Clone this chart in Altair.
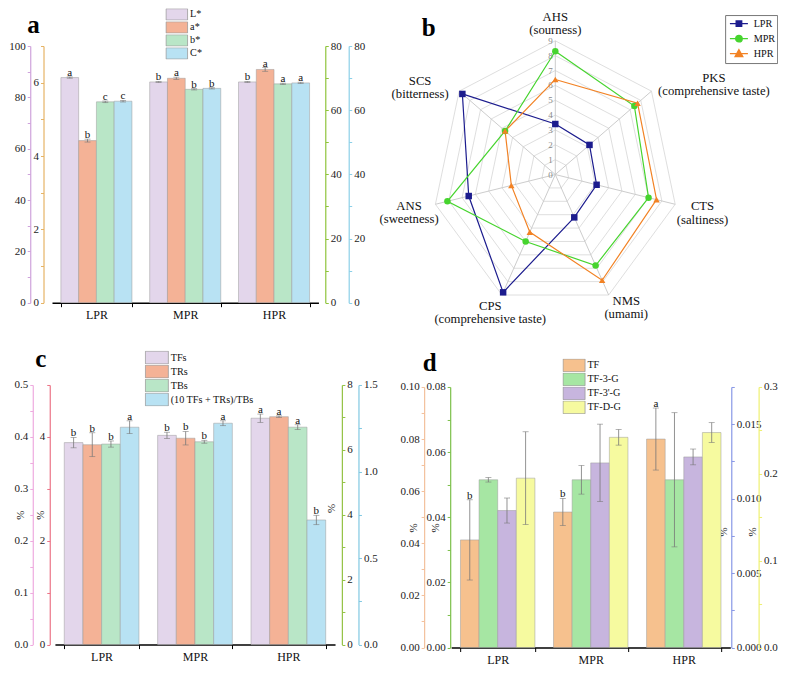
import numpy as np
import pandas as pd
import altair as alt

FONT = "Liberation Serif"
S = 0.976  # reference pixels -> chart pixels (slight compression so everything fits)

CATS = ["LPR", "MPR", "HPR"]

# ---------------- panel a : colour ----------------
A_SERIES = ["L*", "a*", "b*", "C*"]
A_L = [87.7, 86.0, 86.0]
A_L_ERR = [0.25, 0.2, 0.2]
A_L_SIG = ["a", "b", "b"]
A_A = [4.42, 6.12, 6.36]
A_A_ERR = [0.04, 0.03, 0.05]
A_A_SIG = ["b", "a", "a"]
A_B = [62.6, 66.5, 68.2]
A_B_ERR = [0.25, 0.2, 0.2]
A_B_SIG = ["c", "b", "a"]
A_C = [62.8, 66.8, 68.5]
A_C_ERR = [0.25, 0.2, 0.2]
A_C_SIG = ["c", "b", "a"]
A_COLORS = ["#e3d6eb", "#f4b296", "#b9e6c7", "#b8e2f3"]

# ---------------- panel b : e-tongue radar ----------------
ATTRS = ["AHS", "PKS", "CTS", "NMS", "CPS", "ANS", "SCS"]
ATTR_SUB = ["sourness", "comprehensive taste", "saltiness", "umami",
            "comprehensive taste", "sweetness", "bitterness"]
R_SERIES = ["LPR", "MPR", "HPR"]
R_LPR = [3.4, 3.2, 3.1, 3.2, 8.8, 6.5, 8.7]
R_MPR = [8.3, 7.4, 7.0, 6.8, 5.0, 8.1, 4.7]
R_HPR = [6.4, 7.7, 7.6, 7.9, 4.3, 3.3, 4.7]
R_LEVELS = list(range(0, 10))
R_MAX = 9
R_COLORS = ["#1c1c8e", "#46d42e", "#f28224"]
R_SHAPES = ["square", "circle", "triangle-up"]

# ---------------- panel c : pigments ----------------
C_SERIES = ["TFs", "TRs", "TBs", "(10 TFs + TRs)/TBs"]
C_TF = [0.389, 0.403, 0.436]
C_TF_ERR = [0.010, 0.006, 0.008]
C_TF_SIG = ["b", "b", "a"]
C_TR = [3.85, 3.975, 4.39]
C_TR_ERR = [0.23, 0.13, 0.015]
C_TR_SIG = ["b", "b", "a"]
C_TB = [6.18, 6.25, 6.70]
C_TB_ERR = [0.095, 0.045, 0.075]
C_TB_SIG = ["b", "b", "a"]
C_RATIO = [1.256, 1.279, 0.72]
C_RATIO_ERR = [0.037, 0.014, 0.027]
C_RATIO_SIG = ["a", "a", "b"]
C_COLORS = ["#e3d6eb", "#f4b296", "#b9e6c7", "#b8e2f3"]

# ---------------- panel d : theaflavin monomers ----------------
D_SERIES = ["TF", "TF-3-G", "TF-3'-G", "TF-D-G"]
D_TF = [0.0413, 0.052, 0.080]
D_TF_ERR = [0.0154, 0.0052, 0.0119]
D_TF_SIG = ["b", "b", "a"]
D_TF3G = [0.0515, 0.0515, 0.0515]
D_TF3G_ERR = [0.0007, 0.0044, 0.0206]
D_TF3G_SIG = ["", "", ""]
D_TF3PG = [0.0092, 0.0124, 0.0128]
D_TF3PG_ERR = [0.00084, 0.0026, 0.00053]
D_TF3PG_SIG = ["", "", ""]
D_TFDG = [0.195, 0.242, 0.2475]
D_TFDG_ERR = [0.0534, 0.009, 0.0114]
D_TFDG_SIG = ["", "", ""]
D_COLORS = ["#f6c18e", "#a6e6a3", "#c7b5de", "#f6fa9f"]


# ---------------- helpers ----------------
def y_axis(origin, view_w, orient, page_x, color, step, lstep, fmt, vmax, title_pos=None):
    ox, oy = origin
    offset = (ox - page_x) * S if orient == "left" else (page_x - (ox + view_w)) * S
    vals = [float(round(v, 6)) for v in np.arange(0, vmax + 1e-9, step)]
    kw = dict(
        orient=orient, offset=offset, values=vals, format=fmt,
        labelExpr=f"abs(datum.value / {lstep} - round(datum.value / {lstep})) < 0.001 ? datum.label : ''",
        domainColor=color, tickColor=color, domainWidth=1.2, tickWidth=1, tickSize=3,
        labelFont=FONT, labelFontSize=11, labelColor="#222", labelPadding=2, grid=False,
        labelFlush=False, labelOverlap=False,
    )
    if title_pos:
        kw.update(title="%", titleX=(title_pos[0] - page_x) * S - 2, titleY=(title_pos[1] - oy) * S,
                  titleAngle=270, titleFont=FONT, titleFontSize=11, titleFontWeight="normal",
                  titleColor="#222", titleAlign="center", titleBaseline="middle")
    else:
        kw.update(title=None)
    return alt.Axis(**kw)


def x_axis():
    return alt.Axis(orient="bottom", offset=0, title=None, tickBand="extent",
                    domainColor="black", domainWidth=1.5, tickColor="black", tickSize=4,
                    tickWidth=1, labelFont=FONT, labelFontSize=12, labelColor="#111",
                    labelPadding=3, labelAngle=0, grid=False)


def bar_legend(origin, page_x, page_y, row, w, font):
    s = row - 1.0
    k = 2.0 * w / s - 1.0
    path = f"M-1,-1H{k:.3f}V1H-1Z"
    return alt.Legend(orient="none", legendX=(page_x - origin[0]) * S,
                      legendY=(page_y - origin[1]) * S, title=None,
                      symbolType=path, symbolSize=s * s, symbolStrokeColor="#9a9a9a",
                      symbolStrokeWidth=0.8, symbolOpacity=1, labelFont=FONT,
                      labelFontSize=font, labelColor="#111", labelOffset=w + 2.5 - s - 0.8,
                      clipHeight=row * S, rowPadding=0, padding=0, labelLimit=300)


def panel_letter(ch, origin, px, py):
    return alt.Chart(pd.DataFrame({"t": [ch]})).mark_text(
        font=FONT, fontSize=25, fontWeight="bold", align="center", baseline="alphabetic",
        color="black").encode(x=alt.value((px - origin[0]) * S),
                              y=alt.value((py - origin[1]) * S), text="t:N")


def bar_panel(series, vals, errs, sigs, colors, axes, origin, size, x_page, y_page,
              legend, letter):
    ox, oy = origin
    vw, vh = size
    pad_in, pad_out = 0.2, 0.1
    span = (x_page[1] - x_page[0]) * S
    step = span / (len(CATS) - pad_in + 2 * pad_out)
    bandw = step * (1 - pad_in)
    xs = alt.Scale(domain=CATS, range=[(x_page[0] - ox) * S, (x_page[1] - ox) * S],
                   paddingInner=pad_in, paddingOuter=pad_out)
    xo = alt.Scale(domain=series, range=[0, bandw], paddingInner=0, paddingOuter=0)
    cs = alt.Scale(domain=series, range=colors)
    xax = x_axis()
    layers = []
    for i, s in enumerate(series):
        df = pd.DataFrame({"cat": CATS, "series": s, "v": vals[i], "e": errs[i], "sig": sigs[i]})
        df["lo"] = df["v"] - df["e"]
        df["hi"] = df["v"] + df["e"]
        ys = alt.Scale(domain=[0, axes[i]["vmax"]],
                       range=[(y_page[0] - oy) * S, (y_page[1] - oy) * S],
                       nice=False, zero=False)
        yax = y_axis(origin, vw, **axes[i])
        xoe = alt.XOffset("series:N", scale=xo)
        xe = alt.X("cat:N", scale=xs, axis=xax)
        base = alt.Chart(df)
        bar = base.mark_bar(stroke="#9a9a9a", strokeWidth=0.5).encode(
            x=xe, xOffset=xoe,
            y=alt.Y("v:Q", scale=ys, axis=yax),
            color=alt.Color("series:N", scale=cs, legend=legend),
        )
        rule = base.mark_rule(color="#777777", strokeWidth=0.8).encode(
            x=xe, xOffset=xoe, y=alt.Y("lo:Q", scale=ys, axis=yax), y2="hi:Q")
        cap_lo = base.mark_tick(orient="horizontal", size=6, thickness=0.8, color="#777777").encode(
            x=xe, xOffset=xoe, y=alt.Y("lo:Q", scale=ys, axis=yax))
        cap_hi = base.mark_tick(orient="horizontal", size=6, thickness=0.8, color="#777777").encode(
            x=xe, xOffset=xoe, y=alt.Y("hi:Q", scale=ys, axis=yax))
        txt = base.mark_text(font=FONT, fontSize=11, dy=-4, color="#111").encode(
            x=xe, xOffset=xoe, y=alt.Y("hi:Q", scale=ys, axis=yax), text="sig:N")
        layers.append(alt.layer(bar, rule, cap_lo, cap_hi, txt))
    return alt.layer(*layers, letter).resolve_scale(y="independent").properties(
        width=vw * S, height=vh * S)


LEGEND_FONT = 10.2

# ---------------- panel a ----------------
OA = (43, 40)
axes_a = [
    dict(orient="left", page_x=20.7, color="#cfa3dc", step=10, lstep=20, fmt="d", vmax=100),
    dict(orient="left", page_x=34.3, color="#e6b466", step=1, lstep=2, fmt="d", vmax=7),
    dict(orient="right", page_x=323, color="#8fc43c", step=10, lstep=20, fmt="d", vmax=80),
    dict(orient="right", page_x=347, color="#8cd0e8", step=10, lstep=20, fmt="d", vmax=80),
]
panel_a = bar_panel(A_SERIES, [A_L, A_A, A_B, A_C], [A_L_ERR, A_A_ERR, A_B_ERR, A_C_ERR],
                    [A_L_SIG, A_A_SIG, A_B_SIG, A_C_SIG], A_COLORS, axes_a,
                    OA, (273, 263), (43, 316), (303, 40),
                    bar_legend(OA, 159, 1.5, 12.3, 21.5, LEGEND_FONT),
                    panel_letter("a", OA, 24, 27))

# ---------------- panel c ----------------
OC = (43, 387)
axes_c = [
    dict(orient="left", page_x=23.3, color="#eeaadf", step=0.05, lstep=0.1, fmt=".1f", vmax=0.5,
         title_pos=(12.7, 520)),
    dict(orient="left", page_x=40.7, color="#ec7486", step=1, lstep=2, fmt="d", vmax=5,
         title_pos=(33.3, 520)),
    dict(orient="right", page_x=340, color="#93c244", step=1, lstep=2, fmt="d", vmax=8,
         title_pos=(331.7, 513)),
    dict(orient="right", page_x=357, color="#80c8e2", step=0.25, lstep=0.5, fmt=".1f", vmax=1.5),
]
panel_c = bar_panel(C_SERIES, [C_TF, C_TR, C_TB, C_RATIO],
                    [C_TF_ERR, C_TR_ERR, C_TB_ERR, C_RATIO_ERR],
                    [C_TF_SIG, C_TR_SIG, C_TB_SIG, C_RATIO_SIG], C_COLORS, axes_c,
                    OC, (290, 266), (46, 333), (653, 387),
                    bar_legend(OC, 138, 352, 13.75, 23, LEGEND_FONT),
                    panel_letter("c", OC, 31.5, 369))

# ---------------- panel d ----------------
OD = (451, 387)
axes_d = [
    dict(orient="left", page_x=423.3, color="#f3c09c", step=0.01, lstep=0.02, fmt=".2f", vmax=0.1,
         title_pos=(414, 533)),
    dict(orient="left", page_x=450, color="#7cc04a", step=0.01, lstep=0.02, fmt=".2f", vmax=0.08,
         title_pos=(437.3, 533)),
    dict(orient="right", page_x=738, color="#8898e6", step=0.0025, lstep=0.005, fmt=".3f",
         vmax=0.0175, title_pos=(732.3, 537)),
    dict(orient="right", page_x=766, color="#eef070", step=0.05, lstep=0.1, fmt=".1f", vmax=0.3,
         title_pos=(762.3, 537)),
]
panel_d = bar_panel(D_SERIES, [D_TF, D_TF3G, D_TF3PG, D_TFDG],
                    [D_TF_ERR, D_TF3G_ERR, D_TF3PG_ERR, D_TFDG_ERR],
                    [D_TF_SIG, D_TF3G_SIG, D_TF3PG_SIG, D_TFDG_SIG], D_COLORS, axes_d,
                    OD, (286, 269), (451, 737), (656, 389),
                    bar_legend(OD, 565, 360, 13.75, 22, LEGEND_FONT),
                    panel_letter("d", OD, 429, 373))

# ---------------- panel b : radar ----------------
OB = (451, 40)
BW, BH = 269, 263
CX, CY, RX, RY = 557.7, 171.7, 126.0, 137.0
rx = alt.Scale(domain=[(OB[0] - CX) * R_MAX / RX, (OB[0] + BW - CX) * R_MAX / RX],
               nice=False, zero=False)
ry = alt.Scale(domain=[(CY - (OB[1] + BH)) * R_MAX / RY, (CY - OB[1]) * R_MAX / RY],
               nice=False, zero=False)
ANG = "datum.idx * 2 * PI / 7"

radar_df = pd.DataFrame([
    {"series": s, "attr": a, "idx": i, "value": v}
    for s, vals in zip(R_SERIES, [R_LPR, R_MPR, R_HPR])
    for i, (a, v) in enumerate(zip(ATTRS, vals))
])
grid_df = pd.DataFrame([{"level": lv, "idx": i} for lv in R_LEVELS[1:] for i in range(len(ATTRS))])
spoke_df = pd.DataFrame({"idx": list(range(len(ATTRS)))})
lev_df = pd.DataFrame({"level": R_LEVELS})

rings = alt.Chart(grid_df).transform_calculate(
    ang=ANG, gx="datum.level * sin(datum.ang)", gy="datum.level * cos(datum.ang)"
).mark_line(interpolate="linear-closed", color="#dadada", strokeWidth=0.9).encode(
    x=alt.X("gx:Q", scale=rx, axis=None), y=alt.Y("gy:Q", scale=ry, axis=None),
    detail="level:N", order=alt.Order("idx:Q"))

spokes = alt.Chart(spoke_df).transform_calculate(
    ang=ANG, zero="0", sx=f"{R_MAX} * sin(datum.ang)", sy=f"{R_MAX} * cos(datum.ang)"
).mark_rule(color="#c6c6c6", strokeWidth=0.9).encode(
    x=alt.X("zero:Q", scale=rx, axis=None), y=alt.Y("zero:Q", scale=ry, axis=None),
    x2="sx:Q", y2="sy:Q")

lev_labels = alt.Chart(lev_df).transform_calculate(zero="0").mark_text(
    align="right", baseline="middle", dx=-2.5, font=FONT, fontSize=9, color="#888888"
).encode(x=alt.X("zero:Q", scale=rx, axis=None), y=alt.Y("level:Q", scale=ry, axis=None),
         text="level:Q")

radar_base = alt.Chart(radar_df).transform_calculate(
    ang=ANG, px="datum.value * sin(datum.ang)", py="datum.value * cos(datum.ang)")
r_lines = [
    radar_base.transform_filter(alt.datum.series == s).mark_line(
        interpolate="linear-closed", strokeWidth=1.2, color=col).encode(
        x=alt.X("px:Q", scale=rx, axis=None), y=alt.Y("py:Q", scale=ry, axis=None),
        order=alt.Order("idx:Q"))
    for s, col in zip(R_SERIES, R_COLORS)
]
r_points = [
    radar_base.transform_filter(alt.datum.series == s).mark_point(
        filled=True, size=42, opacity=1, shape=shp, color=col).encode(
        x=alt.X("px:Q", scale=rx, axis=None), y=alt.Y("py:Q", scale=ry, axis=None))
    for s, shp, col in zip(R_SERIES, R_SHAPES, R_COLORS)
]

LEG_PATHS = [
    "M-0.65,0H2.12M0.32,-0.42H1.16V0.42H0.32Z",
    "M-0.65,0H2.12M0.24,0A0.5,0.5 0 1,0 1.24,0A0.5,0.5 0 1,0 0.24,0Z",
    "M-0.65,0H2.12M0.74,-0.6L1.32,0.45L0.16,0.45Z",
]
rc = alt.Scale(domain=R_SERIES, range=R_COLORS)
r_leg = alt.Legend(orient="none", legendX=(731.7 - OB[0]) * S, legendY=(8.3 - OB[1]) * S,
                   title=None, symbolSize=169, symbolStrokeWidth=1.4, symbolOpacity=1,
                   labelFont=FONT, labelFontSize=LEGEND_FONT, labelColor="#111", labelOffset=12,
                   clipHeight=14.5 * S, rowPadding=0, padding=1.5,
                   strokeColor="#777777", fillColor="white")
r_legend_layer = alt.Chart(radar_df).transform_filter("false").mark_point(
    filled=True, size=169, strokeWidth=1.4, opacity=1).encode(
    fill=alt.Fill("series:N", scale=rc, legend=r_leg),
    stroke=alt.Stroke("series:N", scale=rc, legend=r_leg),
    shape=alt.Shape("series:N", scale=alt.Scale(domain=R_SERIES, range=LEG_PATHS), legend=r_leg))

# label offsets (block centre) from the outer vertex, reference pixels
R_LABEL_OFFSETS = [(0, -18), (64, -7), (28, 9), (18, 13), (-12, 18), (-27, 8), (-40, -4)]
LINE_H = 13.2
r_labels = []
for i, (a, sub) in enumerate(zip(ATTRS, ATTR_SUB)):
    ldf = pd.DataFrame({"idx": [i], "label": [f"{a}\n({sub})"]})
    dx, dy = R_LABEL_OFFSETS[i]
    r_labels.append(alt.Chart(ldf).transform_calculate(
        ang=ANG, vx=f"{R_MAX} * sin(datum.ang)", vy=f"{R_MAX} * cos(datum.ang)"
    ).mark_text(font=FONT, fontSize=12.7, lineBreak="\n", lineHeight=LINE_H, align="center",
                baseline="middle", dx=dx * S, dy=dy * S - LINE_H / 2, color="#111").encode(
        x=alt.X("vx:Q", scale=rx, axis=None), y=alt.Y("vy:Q", scale=ry, axis=None),
        text="label:N"))

panel_b = alt.layer(rings, spokes, lev_labels, *r_lines, *r_points, r_legend_layer,
                    *r_labels, panel_letter("b", OB, 428, 30)).properties(
    width=BW * S, height=BH * S)

# ---------------- assemble ----------------
chart = alt.concat(
    panel_a, panel_b, panel_c, panel_d, columns=2, bounds="flush",
    spacing=alt.RowColnumber(row=(OC[1] - 303) * S, column=(OD[0] - 333) * S),
).resolve_scale(
    color="independent", fill="independent", stroke="independent", shape="independent",
    xOffset="independent", x="independent", y="independent"
).properties(padding=0).configure(font=FONT).configure_view(strokeWidth=0)

chart.save("out.html", embed_options={"renderer": "svg", "actions": False})
